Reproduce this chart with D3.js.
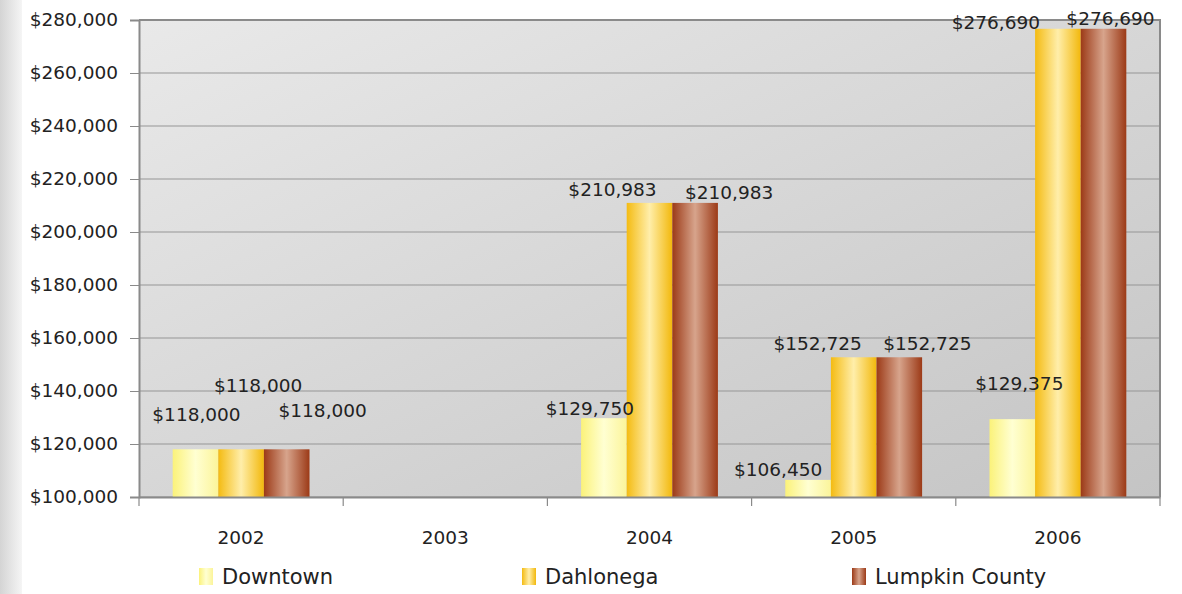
<!DOCTYPE html>
<html><head><meta charset="utf-8">
<script src="https://cdn.jsdelivr.net/npm/d3@7"></script>
<style>body{margin:0;background:#fff;} svg{display:block;}</style>
</head><body>
<script>
const years = ["2002","2003","2004","2005","2006"];
const seriesNames = ["Downtown","Dahlonega","Lumpkin County"];
const downtown = [118000, null, 129750, 106450, 129375];
const dahlonega = [118000, null, 210983, 152725, 276690];
const lumpkin = [118000, null, 210983, 152725, 276690];
const yTicks = [100000,120000,140000,160000,180000,200000,220000,240000,260000,280000];
// label nudges (layout only): [dx, dy] per series per year, relative to bar top-centre
const labelNudge = {
  "Downtown":      [[1,-28],[0,0],[-14,-3],[-30,-4],[7,-29]],
  "Dahlonega":     [[17,-57],[0,0],[-37,-7],[-36,-7],[-62,0]],
  "Lumpkin County":[[36,-32],[0,0],[34,-4],[28,-7],[7,-4]]
};
const seriesData = [downtown, dahlonega, lumpkin];

const W=1182,H=594;
const m={l:139,r:1160,t:20,b:497};
const svg=d3.select("body").append("svg").attr("width",W).attr("height",H);
const defs=svg.append("defs");

const lg=defs.append("linearGradient").attr("id","leftStrip").attr("x1",0).attr("x2",1).attr("y1",0).attr("y2",0);
lg.append("stop").attr("offset",0).attr("stop-color","#d4d4d4");
lg.append("stop").attr("offset",1).attr("stop-color","#f5f5f5");
svg.append("rect").attr("x",0).attr("y",0).attr("width",22).attr("height",H).attr("fill","url(#leftStrip)");

const bg=defs.append("linearGradient").attr("id","plotBg").attr("x1",0).attr("y1",0).attr("x2",1).attr("y2",1);
bg.append("stop").attr("offset",0).attr("stop-color","#e9e9e9");
bg.append("stop").attr("offset",1).attr("stop-color","#c4c4c4");

const barGrads=[
  ["#fbf27a","#ffffd2","#fbf49a"],
  ["#f4bb12","#ffeeaa","#f2b80c"],
  ["#9c3a17","#d7a48c","#9c3a17"]
];
barGrads.forEach((c,i)=>{
  const g=defs.append("linearGradient").attr("id","bar"+i).attr("x1",0).attr("x2",1).attr("y1",0).attr("y2",0);
  g.append("stop").attr("offset",0).attr("stop-color",c[0]);
  g.append("stop").attr("offset",0.5).attr("stop-color",c[1]);
  g.append("stop").attr("offset",1).attr("stop-color",c[2]);
});

const x=d3.scaleBand().domain(years).range([m.l,m.r]).padding(0);
const bw=x.bandwidth();
const groupW=bw*0.67;
const x1=d3.scaleBand().domain(seriesNames).range([0,groupW]).padding(0);
const y=d3.scaleLinear().domain([100000,280000]).range([m.b,m.t]);

svg.append("rect").attr("x",m.l).attr("y",m.t).attr("width",m.r-m.l).attr("height",m.b-m.t).attr("fill","url(#plotBg)");

// gridlines
svg.append("g").selectAll("line").data(yTicks).join("line")
  .attr("x1",m.l).attr("x2",m.r).attr("y1",d=>y(d)).attr("y2",d=>y(d))
  .attr("stroke","#969696").attr("stroke-width",1.2);

const fmt=d=>"$"+d3.format(",")(d);
const font="'DejaVu Sans', sans-serif";

// y axis
const ya=svg.append("g").attr("transform",`translate(${m.l},0)`)
  .call(d3.axisLeft(y).tickValues(yTicks).tickFormat(fmt).tickSize(9).tickPadding(12));
ya.select(".domain").attr("stroke","#8a8a8a").attr("stroke-width",2);
ya.selectAll(".tick line").attr("stroke","#8a8a8a");
ya.selectAll("text").attr("font-family",font).attr("font-size",18.5).attr("fill","#222");

// bars
const offs=(bw-groupW)/2;
seriesNames.forEach((s,si)=>{
  svg.append("g").selectAll("rect").data(years.map((yr,i)=>({yr,v:seriesData[si][i]})).filter(d=>d.v!=null))
    .join("rect")
    .attr("x",d=>x(d.yr)+offs+x1(s)).attr("width",x1.bandwidth())
    .attr("y",d=>y(d.v)).attr("height",d=>y(100000)-y(d.v))
    .attr("fill",`url(#bar${si})`);
});

// plot border (top/right)
svg.append("path").attr("d",`M${m.l},${m.t}H${m.r}V${m.b}`).attr("fill","none").attr("stroke","#8a8a8a").attr("stroke-width",2);

// x axis
const xa=svg.append("g").attr("transform",`translate(0,${m.b})`)
  .call(d3.axisBottom(x).tickSize(0).tickPadding(34));
xa.select(".domain").attr("stroke","#8a8a8a").attr("stroke-width",2);
xa.selectAll("text").attr("font-family",font).attr("font-size",18.5).attr("fill","#222");
svg.append("g").selectAll("line").data(years.concat(["end"])).join("line")
  .attr("x1",(d,i)=>m.l+i*bw).attr("x2",(d,i)=>m.l+i*bw)
  .attr("y1",m.b).attr("y2",m.b+9).attr("stroke","#8a8a8a").attr("stroke-width",1.2);

// data labels
seriesNames.forEach((s,si)=>{
  years.forEach((yr,i)=>{
    const v=seriesData[si][i]; if(v==null) return;
    const n=labelNudge[s][i];
    const cx=x(yr)+offs+x1(s)+x1.bandwidth()/2;
    svg.append("text").attr("x",cx+n[0]).attr("y",y(v)+n[1])
      .attr("text-anchor","middle").attr("font-family",font).attr("font-size",18.5).attr("fill","#222")
      .text(fmt(v));
  });
});

// legend
const legX=[199,522,852];
seriesNames.forEach((s,si)=>{
  const g=svg.append("g").attr("transform",`translate(${legX[si]},568)`);
  g.append("rect").attr("x",0).attr("y",0).attr("width",14).attr("height",17).attr("fill",`url(#bar${si})`);
  g.append("text").attr("x",23).attr("y",16).attr("font-family",font).attr("font-size",21).attr("fill","#222").text(s);
});
</script>
</body></html>
